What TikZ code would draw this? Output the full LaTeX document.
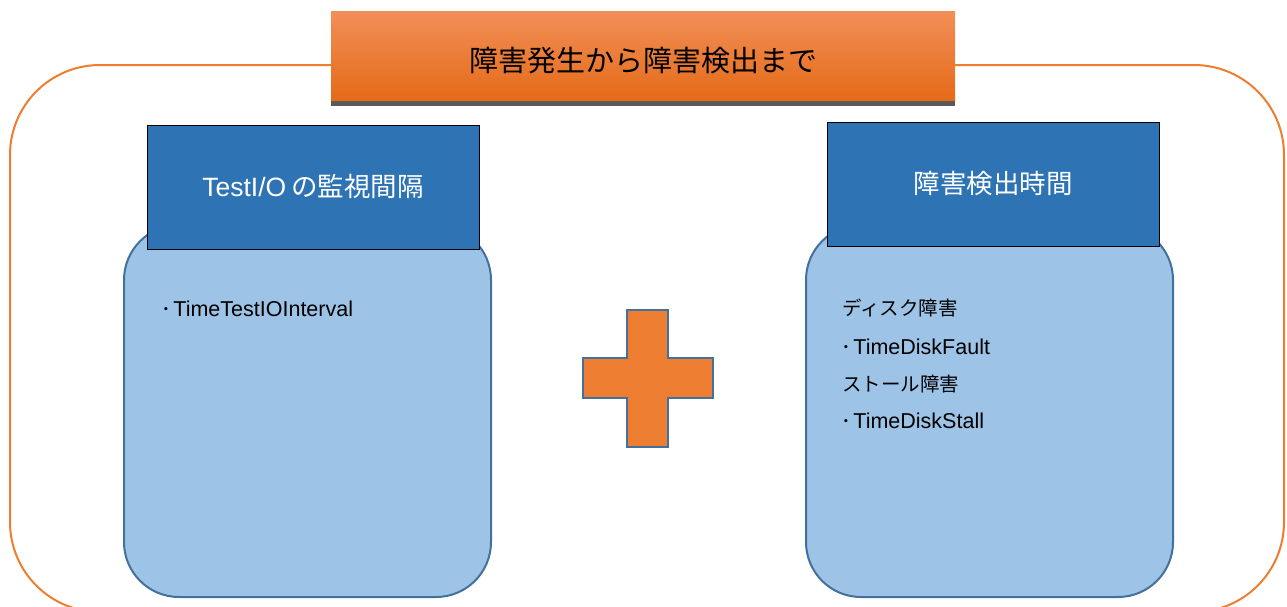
\documentclass[tikz,border=0pt]{standalone}
\usepackage{fontspec}
\setmainfont{Liberation Sans}
\newfontfamily\jp{Noto Sans CJK JP}
\definecolor{outerorange}{HTML}{ED7D31}
\definecolor{titletop}{HTML}{F28F58}
\definecolor{titlebot}{HTML}{E46A17}
\definecolor{headblue}{HTML}{2E74B5}
\definecolor{lightblue}{HTML}{9DC3E6}
\definecolor{edgeblue}{HTML}{41719C}
\definecolor{stripgray}{HTML}{595959}
\newcommand{\bdot}{{\jp\fontsize{19.5}{22}\selectfont ･}\hspace{2.5pt}}
\tikzset{
  bodybox/.style={draw=edgeblue, line width=2pt, fill=lightblue, rounded corners=55pt},
  headbox/.style={draw=black, line width=0.8pt, fill=headblue, text=white, inner sep=0pt,
    minimum width=332pt, minimum height=124pt},
  latitem/.style={anchor=base west, inner sep=0pt, font=\fontsize{21.5}{24}\selectfont},
  jpitem/.style={anchor=west, inner sep=0pt, font=\fontsize{19.5}{22}\selectfont\jp},
}
\begin{document}
\begin{tikzpicture}[x=1pt, y=-1pt]
\useasboundingbox (0,0) rectangle (1287,606);
% outer frame
\draw[outerorange, line width=2pt, rounded corners=90pt] (10,65) rectangle (1284,612);
% title
\shade[top color=titletop, bottom color=titlebot] (331,11) rectangle (955,101);
\fill[stripgray] (331,101) rectangle (955,106);
\node[font=\fontsize{29}{32}\selectfont\jp, inner sep=0pt] (title) at (643,61) {障害発生から障害検出まで};
% left
\draw[bodybox] (124,225) rectangle (491,597);
\node[headbox] (lhead) at (313,187) {\raisebox{4pt}{\fontsize{26.5}{30}\selectfont TestI/O\hspace{5pt}{\jp\fontsize{26.5}{30}\selectfont の監視間隔}}};
\node[latitem] (l1) at (161,316) {\bdot TimeTestIOInterval};
% right
\draw[bodybox] (806,225) rectangle (1173,597);
\node[headbox] (rhead) at (993,184) {\raisebox{3.5pt}{\jp\fontsize{26.5}{30}\selectfont 障害検出時間}};
\node[jpitem] (r1) at (842,307.5) {ディスク障害};
\node[latitem] (r2) at (841,354) {\bdot TimeDiskFault};
\node[jpitem] (r3) at (842,384) {ストール障害};
\node[latitem] (r4) at (841,428) {\bdot TimeDiskStall};
% plus
\draw[edgeblue, line width=2pt, fill=outerorange]
  (627,310) -- (668,310) -- (668,358) -- (713,358) -- (713,398) -- (668,398)
  -- (668,447) -- (627,447) -- (627,398) -- (583,398) -- (583,358) -- (627,358) -- cycle;
\end{tikzpicture}
\end{document}
